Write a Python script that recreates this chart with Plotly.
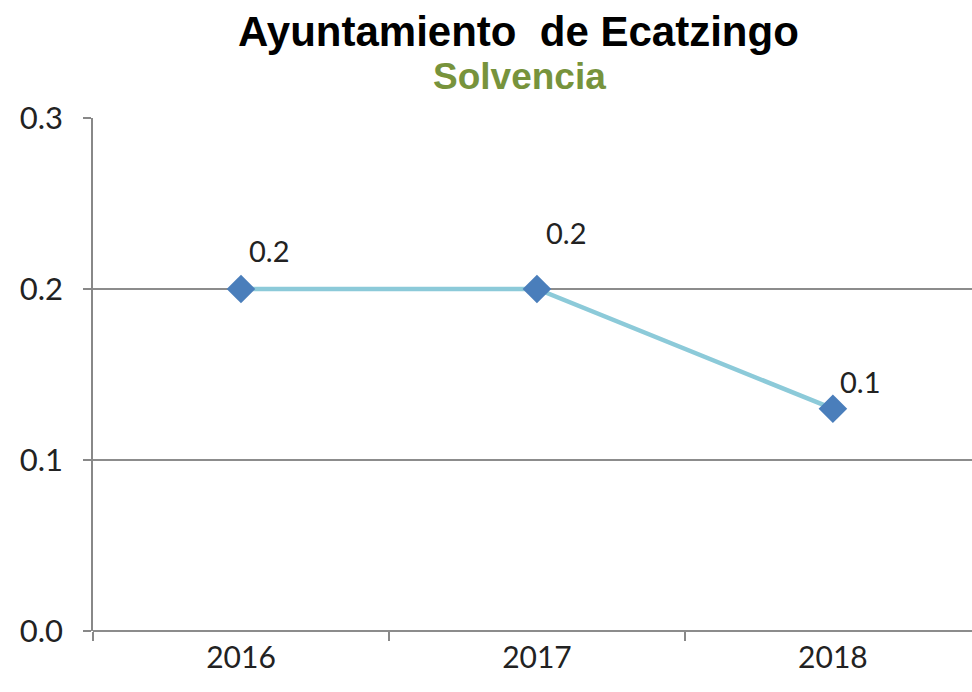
import plotly.graph_objects as go

years = ["2016", "2017", "2018"]
solvencia = [0.2, 0.2, 0.13]
y_ticks = [0.0, 0.1, 0.2, 0.3]
y_tick_labels = ["0.0", "0.1", "0.2", "0.3"]
title_text = "Ayuntamiento  de Ecatzingo"
subtitle_text = "Solvencia"

L, R, T, B = 93, 0, 118, 61
W, H = 972, 692
pw, ph = W - L - R, H - T - B

def px_x(x):
    return (x - L) / pw

def px_y(y):
    return (H - B - y) / ph

fig = go.Figure()
fig.add_trace(go.Scatter(
    x=years, y=solvencia, mode="lines+markers",
    line=dict(color="#8CCAD9", width=4.5),
    marker=dict(symbol="diamond", size=22, color="#4A7EBB"),
    showlegend=False, hoverinfo="skip",
))

label_shifts = [(28, 39), (29, 57), (27, 27)]
annotations = []
for i, (yv, (dx, dy)) in enumerate(zip(solvencia, label_shifts)):
    annotations.append(dict(
        x=i, y=yv, xref="x", yref="y", text=f"{yv:.1f}",
        showarrow=False, xshift=dx, yshift=dy,
        xanchor="center", yanchor="middle",
        font=dict(family="Lato", size=29, color="#222222"),
    ))
annotations.append(dict(
    x=px_x(518), y=px_y(31), xref="paper", yref="paper", text=f"<b>{title_text}</b>",
    xanchor="center", yanchor="middle",
    showarrow=False, font=dict(family="Liberation Sans", size=42, color="#000000"),
))
annotations.append(dict(
    x=px_x(519), y=px_y(77), xref="paper", yref="paper", text=f"<b>{subtitle_text}</b>",
    xanchor="center", yanchor="middle",
    showarrow=False, font=dict(family="Liberation Sans", size=37, color="#77933C"),
))

fig.update_layout(
    width=W, height=H,
    margin=dict(l=L, r=R, t=T, b=B),
    plot_bgcolor="white", paper_bgcolor="white",
    annotations=annotations,
    xaxis=dict(
        type="category", range=[-0.5, 2.47],
        tickson="boundaries", ticks="outside", ticklen=9, tickcolor="#888888", tickwidth=1.5,
        showline=False, showgrid=False, zeroline=False,
        tickfont=dict(family="Lato", size=30, color="#222222"),
        ticklabelstandoff=6,
    ),
    yaxis=dict(
        range=[0, 0.3], tickvals=y_ticks, ticktext=y_tick_labels,
        ticks="outside", ticklen=8, tickcolor="#888888", tickwidth=1.5,
        showline=True, linecolor="#888888", linewidth=1.5,
        showgrid=True, gridcolor="#8C8C8C", gridwidth=1.5,
        zeroline=True, zerolinecolor="#8C8C8C", zerolinewidth=1.5,
        tickfont=dict(family="Lato", size=31, color="#222222"),
        ticklabelstandoff=14,
    ),
)
fig.write_html(
    "out.html",
    config={"displayModeBar": False},
    post_script="document.body.style.margin='0';document.body.style.overflow='hidden';",
)
